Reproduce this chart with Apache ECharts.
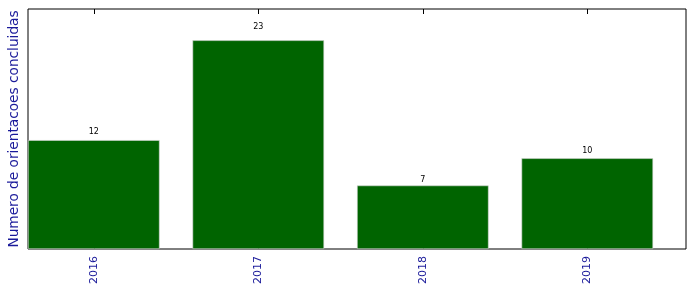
<!DOCTYPE html>
<html>
<head>
<meta charset="utf-8">
<script src="https://cdn.jsdelivr.net/npm/echarts@6/dist/echarts.min.js"></script>
<style>html,body{margin:0;padding:0;background:#fff;}#c{width:696px;height:292px;}</style>
</head>
<body>
<div id="c"></div>
<script>
const categories = ['2016', '2017', '2018', '2019'];
const values = [12, 23, 7, 10];
const yLabel = 'Numero de orientacoes concluidas';

const positions = categories.map((c, i) => i);
const gridH = 240, yMax = 26.45;
const pxPerUnit = gridH / yMax;
const chart = echarts.init(document.getElementById('c'), null, {renderer: 'canvas'});
const blue = '#1a1a9a';
const xBase = {
  type: 'value', min: -0.4, max: 3.6,
  splitLine: {show: false},
  axisLine: {show: false}
};
chart.setOption({
  animation: false,
  grid: {left: 28, top: 9, width: 658, height: gridH, show: true, borderColor: '#000', borderWidth: 1, backgroundColor: '#fff',
    containLabel: false, outerBoundsMode: 'none'},
  xAxis: [
    Object.assign({}, xBase, {
      position: 'bottom',
      axisTick: {show: true, inside: true, length: 5, customValues: positions, lineStyle: {color: '#000'}},
      axisLabel: {show: true, customValues: positions, rotate: 90, color: blue, fontSize: 11, fontFamily: 'DejaVu Sans', margin: 7,
        formatter: v => categories[Math.round(v)]}
    }),
    Object.assign({}, xBase, {
      position: 'top',
      axisTick: {show: true, inside: true, length: 5, customValues: positions, lineStyle: {color: '#000'}},
      axisLabel: {show: false}
    })
  ],
  yAxis: {
    type: 'value', min: 0, max: yMax,
    splitLine: {show: false}, axisLine: {show: false}, axisTick: {show: false}, axisLabel: {show: false},
    name: yLabel, nameLocation: 'middle', nameRotate: 90, nameGap: 7,
    nameTextStyle: {color: blue, fontSize: 13.7, fontFamily: 'DejaVu Sans'}
  },
  series: [{
    type: 'bar',
    xAxisIndex: 0,
    data: values.map((v, i) => ({
      value: [positions[i], v],
      label: {distance: Math.max(0, 0.05 * v * pxPerUnit - 1.5)}
    })),
    barWidth: 131.6,
    itemStyle: {color: '#006400', borderColor: '#d8d8d8', borderWidth: 0.6},
    label: {show: true, position: 'top', fontSize: 8, color: '#000', fontFamily: 'DejaVu Sans',
      formatter: p => String(p.value[1])}
  }]
});
</script>
</body>
</html>
